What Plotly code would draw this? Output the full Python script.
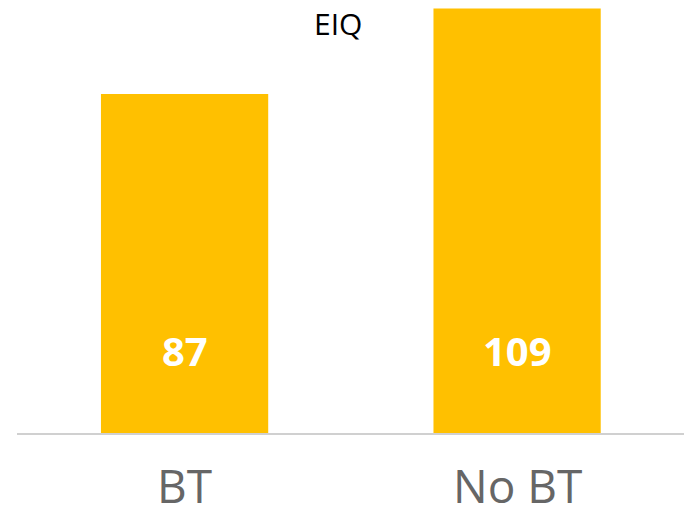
import plotly.graph_objects as go

categories = ["BT", "No BT"]
values = [87, 109]
value_labels = ["87", "109"]

fig = go.Figure(
    go.Bar(
        x=categories,
        y=values,
        marker=dict(color="#FFC000", line=dict(width=0)),
        width=0.503,
        hoverinfo="skip",
    )
)

# value labels near the bottom of each bar
for cat, lab in zip(categories, value_labels):
    fig.add_annotation(
        x=cat, y=21.3, text=f"<b>{lab}</b>", showarrow=False, yanchor="middle",
        font=dict(family="Open Sans", size=40, color="white"),
    )

# category labels under the axis
for cat in categories:
    fig.add_annotation(
        x=cat, y=-0.1224, yref="paper", text=cat, showarrow=False, yanchor="middle",
        font=dict(family="Open Sans", size=46, color="#666666"),
    )

fig.add_annotation(
    x=0.4756, y=0.9624, xref="paper", yref="paper", text="EIQ", showarrow=False,
    xanchor="center", yanchor="middle",
    font=dict(family="Open Sans", size=30, color="black"),
)

fig.update_layout(
    width=684,
    height=499,
    margin=dict(l=9, r=0, t=0, b=74),
    plot_bgcolor="white",
    paper_bgcolor="white",
    showlegend=False,
    xaxis=dict(
        range=[-0.504, 1.526],
        showline=True, linecolor="#d0d0d0", linewidth=2,
        showgrid=False, ticks="", showticklabels=False,
    ),
    yaxis=dict(range=[0, 109.1], visible=False, showgrid=False),
)

fig.write_html("out.html")
